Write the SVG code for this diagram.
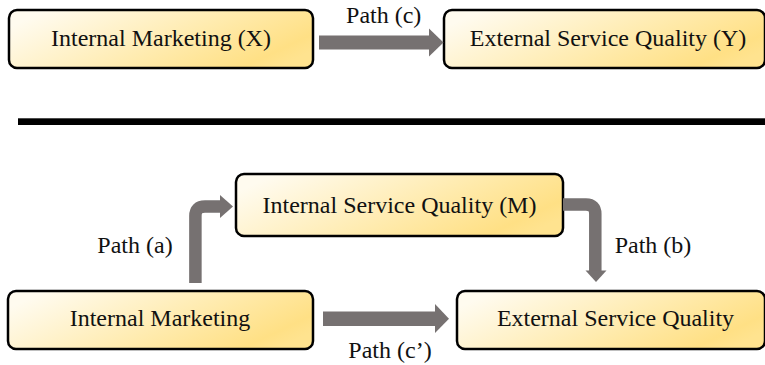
<svg xmlns="http://www.w3.org/2000/svg" width="765" height="365" viewBox="0 0 765 365">
<style>
.box{fill:url(#g);stroke:#000;stroke-width:2.5}
.t{font-family:'Liberation Serif','Times New Roman',Tinos,'DejaVu Serif',serif;font-size:24px;fill:#111;text-anchor:middle}
.sh{fill:none;stroke:#767171;stroke-width:12.5}
.hd{fill:#767171}
</style>
<defs>
<linearGradient id="g" x1="0" y1="0.3" x2="1" y2="0.7">
<stop offset="0" stop-color="#FFFBEF"/>
<stop offset="0.55" stop-color="#FFEBAE"/>
<stop offset="0.9" stop-color="#FFE085"/>
<stop offset="1" stop-color="#FFE38F"/>
</linearGradient>
</defs>
<rect x="18" y="118.3" width="750" height="6.7" fill="#000"/>
<g id="n_x"><rect class="box" x="9" y="10" width="304" height="58" rx="8"/><text class="t" font-family="Liberation Serif, serif" x="161" y="46">Internal Marketing (X)</text></g>
<g id="n_y"><rect class="box" x="444" y="10" width="321" height="58" rx="8"/><text class="t" font-family="Liberation Serif, serif" x="608" y="46">External Service Quality (Y)</text></g>
<g id="n_m"><rect class="box" x="236" y="174" width="327" height="62" rx="8"/><text class="t" font-family="Liberation Serif, serif" x="399.5" y="212.5">Internal Service Quality (M)</text></g>
<g id="n_im"><rect class="box" x="8" y="291" width="305" height="58" rx="8"/><text class="t" font-family="Liberation Serif, serif" x="160" y="326">Internal Marketing</text></g>
<g id="n_esq"><rect class="box" x="457" y="291" width="308" height="58" rx="8"/><text class="t" font-family="Liberation Serif, serif" x="615.5" y="326">External Service Quality</text></g>
<g id="connectors">
<rect class="hd" x="319" y="35.5" width="111" height="14"/>
<polygon class="hd" points="429,28.5 443.5,42.5 429,56.5"/>
<rect class="hd" x="323" y="311.5" width="113" height="14.5"/>
<polygon class="hd" points="435,304 449,318.7 435,333"/>
<path class="sh" d="M195.4 283 V216 Q195.4 206.5 205 206.5 H221"/>
<polygon class="hd" points="220,195 233,206.5 220,218"/>
<path class="sh" d="M563 204.5 H586 Q595.3 204.5 595.3 214 V272"/>
<polygon class="hd" points="585.5,270.5 606.5,270.5 596,282"/>
<text class="t" font-family="Liberation Serif, serif" x="383.7" y="23">Path (c)</text>
<text class="t" font-family="Liberation Serif, serif" x="135" y="253">Path (a)</text>
<text class="t" font-family="Liberation Serif, serif" x="653" y="253">Path (b)</text>
<text class="t" font-family="Liberation Serif, serif" x="390" y="358">Path (c’)</text>
</g>
</svg>
